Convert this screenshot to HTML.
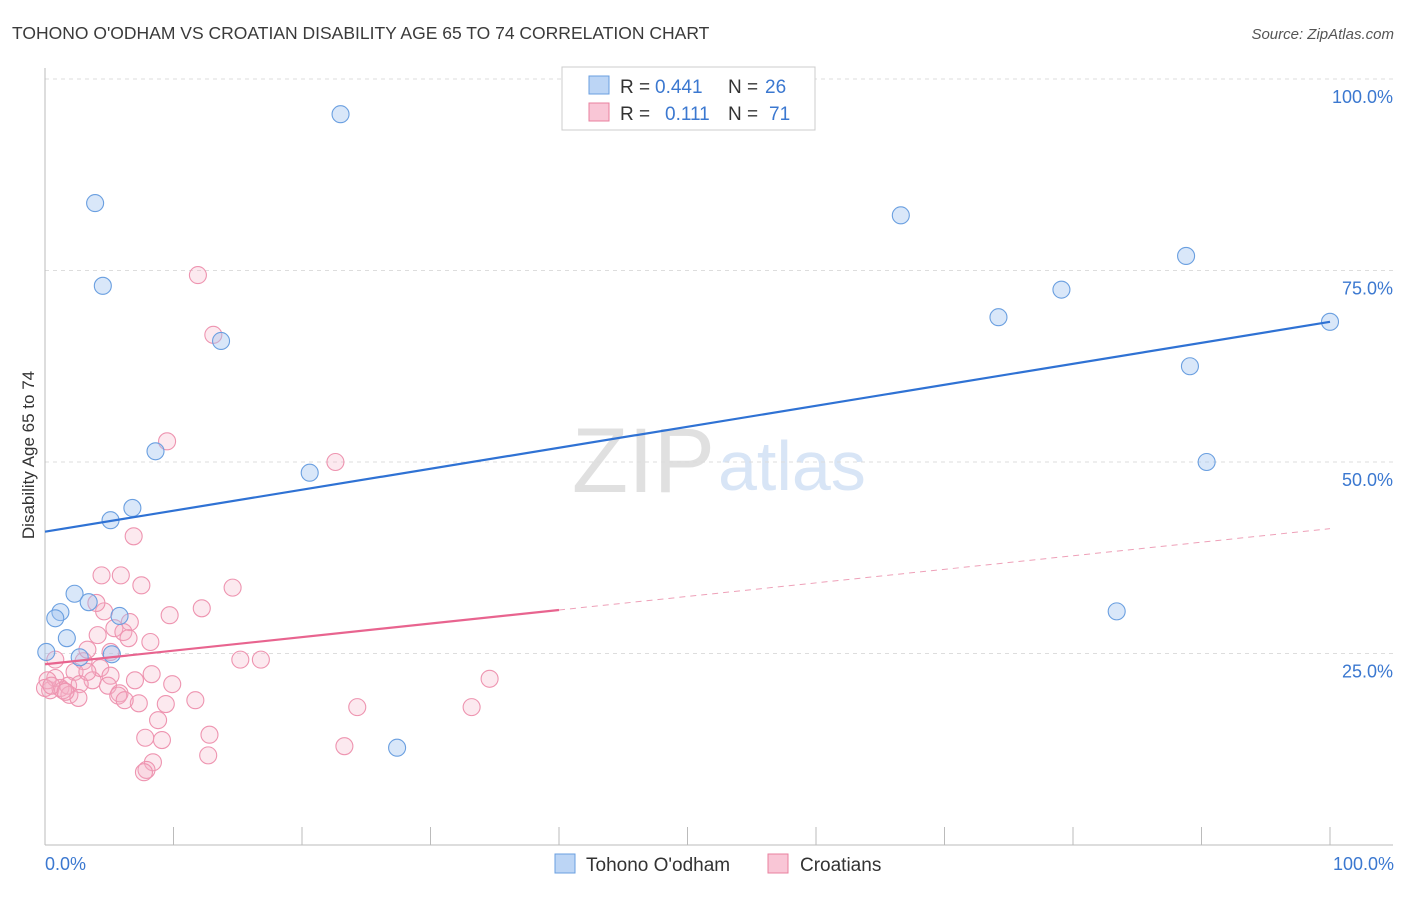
<!DOCTYPE html>
<html><head><meta charset="utf-8"><style>
body{margin:0;background:#fff;font-family:"Liberation Sans",sans-serif}
svg text{font-family:"Liberation Sans",sans-serif}
</style></head><body>
<svg id="c" width="1406" height="892">
<text x="12" y="39" font-size="17.5" fill="#3a3a3a">TOHONO O'ODHAM VS CROATIAN DISABILITY AGE 65 TO 74 CORRELATION CHART</text>
<text x="1394" y="39" font-size="15" fill="#555" font-style="italic" text-anchor="end">Source: ZipAtlas.com</text>
<text x="0" y="0" transform="translate(34,455) rotate(-90)" font-size="17" fill="#333" text-anchor="middle">Disability Age 65 to 74</text>
<text x="715" y="492" font-size="92" fill="#e0e0e0" text-anchor="end" font-family="Liberation Serif">ZIP</text>
<text x="718" y="490" font-size="70" fill="#d8e5f6">atlas</text>
<g id="grid"></g><g id="axes"></g><g id="pts"></g><g id="lines"></g>
<g>
<rect x="562" y="67" width="253" height="63" fill="#fff" stroke="#ccc"/>
<rect x="589" y="76" width="20" height="18" fill="#bcd5f5" stroke="#6a9fe0"/>
<rect x="589" y="103" width="20" height="18" fill="#f9c6d6" stroke="#e9809f"/>
<text x="620" y="93" font-size="19" fill="#333">R =</text>
<text x="655" y="93" font-size="19" fill="#3b78d0">0.441</text>
<text x="728" y="93" font-size="19" fill="#333">N =</text>
<text x="765" y="93" font-size="19" fill="#3b78d0">26</text>
<text x="620" y="120" font-size="19" fill="#333">R =</text>
<text x="665" y="120" font-size="19" fill="#3b78d0">0.111</text>
<text x="728" y="120" font-size="19" fill="#333">N =</text>
<text x="769" y="120" font-size="19" fill="#3b78d0">71</text>
</g>
<g>
<rect x="555" y="854" width="20" height="19" fill="#bcd5f5" stroke="#6a9fe0"/>
<text x="586" y="871" font-size="19" fill="#333">Tohono O'odham</text>
<rect x="768" y="854" width="20" height="19" fill="#f9c6d6" stroke="#e9809f"/>
<text x="800" y="871" font-size="19" fill="#333">Croatians</text>
</g>
<text x="45" y="870" font-size="18" fill="#3b78d0">0.0%</text>
<text x="1394" y="870" font-size="18" fill="#3b78d0" text-anchor="end">100.0%</text>
</svg>
<script>
const yTicks=[100,75,50,25];
const yTickLabels=["100.0%","75.0%","50.0%","25.0%"];
const blueX=[23.0,3.9,4.5,13.7,8.6,20.6,6.8,5.1,2.3,1.2,0.8,3.4,5.8,1.7,2.7,5.2,0.1,27.4,66.6,74.2,79.1,88.8,89.1,100,90.4,83.4];
const blueY=[95.4,83.8,73.0,65.8,51.4,48.6,44.0,42.4,32.8,30.4,29.6,31.7,29.9,27.0,24.5,24.9,25.2,12.7,82.2,68.9,72.5,76.9,62.5,68.3,50.0,30.5];
const pinkX=[11.9,13.1,9.5,22.6,6.9,4.4,5.9,7.5,14.6,12.2,9.7,4.6,4.0,6.6,5.4,6.1,6.5,4.1,8.2,3.0,5.1,3.3,0.8,15.2,16.8,2.3,4.3,8.3,7.0,5.1,3.7,4.9,9.9,0.4,1.2,1.8,0.8,2.7,5.8,5.7,11.7,7.3,9.4,24.3,33.2,34.6,8.8,7.8,9.1,12.8,12.7,8.4,7.9,7.7,23.3,0.2,1.9,2.6,1.4,0.0,0.5,3.3,6.2,1.6];
const pinkY=[74.4,66.6,52.7,50.0,40.3,35.2,35.2,33.9,33.6,30.9,30.0,30.5,31.6,29.1,28.3,27.8,27.0,27.4,26.5,24.0,25.2,25.5,24.2,24.2,24.2,22.6,23.1,22.3,21.5,22.1,21.5,20.8,21.0,20.2,20.5,20.8,21.8,21.0,19.8,19.5,18.9,18.5,18.4,18.0,18.0,21.7,16.3,14.0,13.7,14.4,11.7,10.8,9.8,9.5,12.9,21.5,19.6,19.2,20.2,20.5,20.8,22.6,18.9,20.0];
const blueFit=[40.9,68.3];
const pinkFit=[23.6,41.3];
const pinkSolidEnd=40;
const NS="http://www.w3.org/2000/svg";
const X=v=>45+v*12.85, Y=v=>845-v*7.66;
function mk(t,a,p){const e=document.createElementNS(NS,t);for(const k in a)e.setAttribute(k,a[k]);p.appendChild(e);return e;}
const grid=document.getElementById('grid'),axes=document.getElementById('axes'),pts=document.getElementById('pts'),lines=document.getElementById('lines');
yTicks.forEach((t,i)=>{
 const l=mk('line',{x1:45,x2:1393,y1:Y(t),y2:Y(t),stroke:'#ddd','stroke-dasharray':'4,4'},grid);
 
 
 const tx=mk('text',{x:1393,y:Y(t)+24,'font-size':18,fill:'#3b78d0','text-anchor':'end'},grid);
 tx.textContent=yTickLabels[i];
 
 
});
let a=mk('line',{x1:45,x2:45,y1:68,y2:845,stroke:'#bbb'},axes);


a=mk('line',{x1:45,x2:1393,y1:845,y2:845,stroke:'#bbb'},axes);


for(let i=0;i<=10;i++){const t=mk('line',{x1:X(i*10),x2:X(i*10),y1:827,y2:845,stroke:'#bbb'},axes);
 
 }
pinkX.forEach((v,i)=>{const c=mk('circle',{cx:X(v),cy:Y(pinkY[i]),r:8.5,fill:'rgba(246,175,198,0.28)',stroke:'#ee94b0','stroke-width':1.1},pts);
 
 });
blueX.forEach((v,i)=>{const c=mk('circle',{cx:X(v),cy:Y(blueY[i]),r:8.5,fill:'rgba(160,196,240,0.4)',stroke:'#6a9fe0','stroke-width':1.1},pts);
 
 });
let l=mk('line',{x1:X(0),y1:Y(blueFit[0]),x2:X(100),y2:Y(blueFit[1]),stroke:'#2f72d4','stroke-width':2.2},lines);


const pm=pinkFit[0]+(pinkFit[1]-pinkFit[0])*pinkSolidEnd/100;
l=mk('line',{x1:X(0),y1:Y(pinkFit[0]),x2:X(pinkSolidEnd),y2:Y(pm),stroke:'#e8648f','stroke-width':2.2},lines);


l=mk('line',{x1:X(pinkSolidEnd),y1:Y(pm),x2:X(100),y2:Y(pinkFit[1]),stroke:'#eea0b8','stroke-width':1,'stroke-dasharray':'6,5'},lines);


</script>
</body></html>
